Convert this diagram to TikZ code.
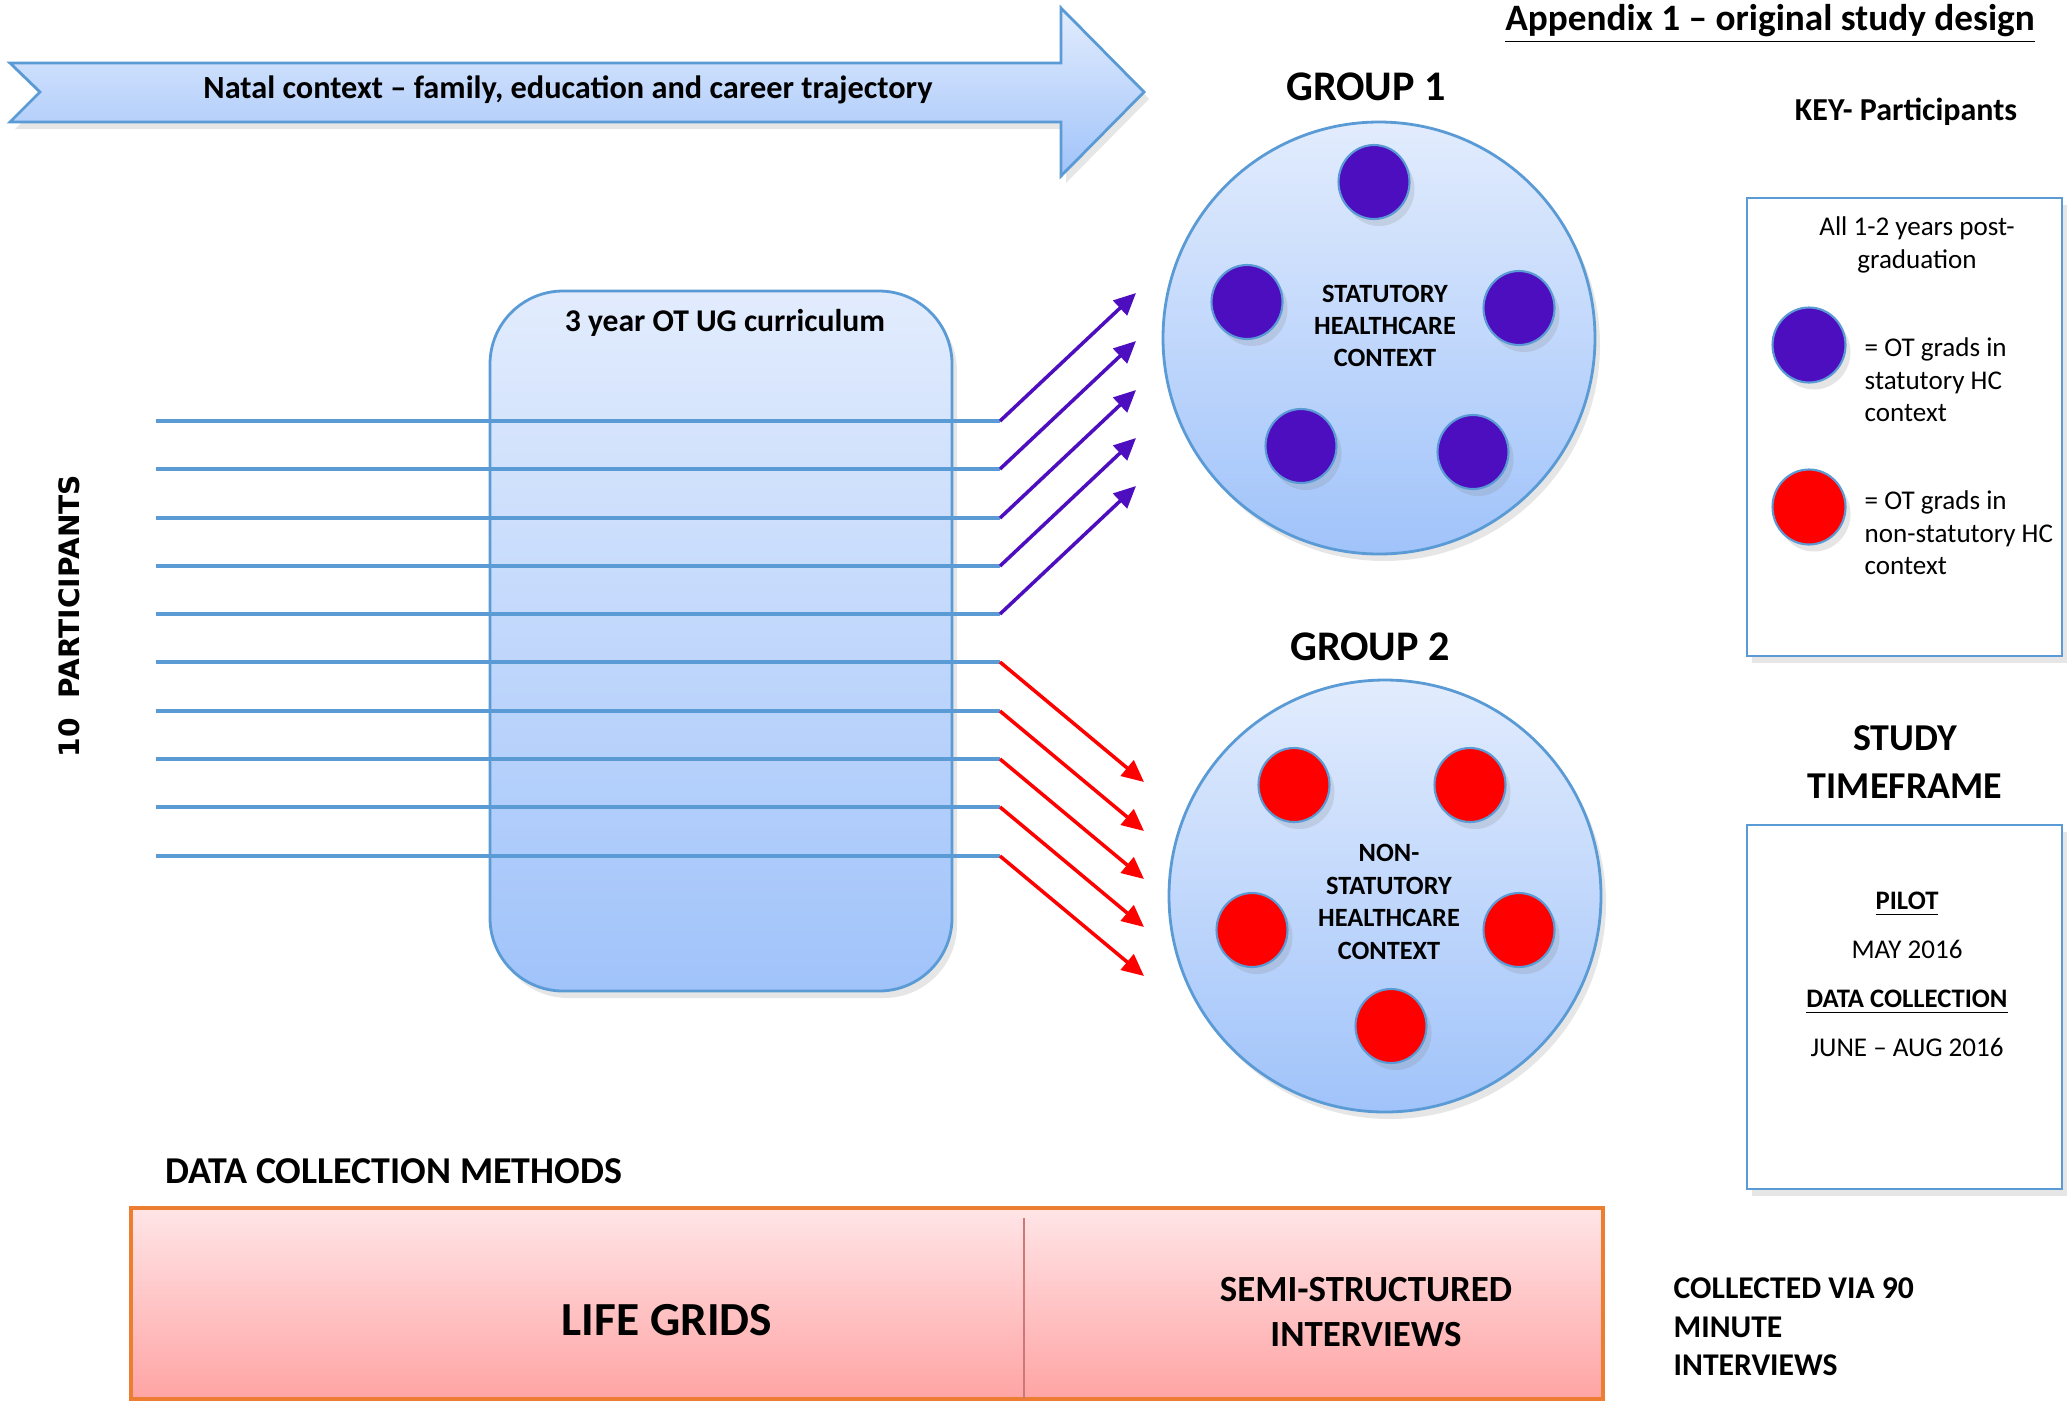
\documentclass[tikz,border=0pt]{standalone}
\usepackage{fontspec}
\setmainfont{Carlito}
\newfontfamily\partfont{DejaVu Sans}
\usepackage{tikz}
\usetikzlibrary{shapes.geometric, arrows.meta, positioning, shadows}

\definecolor{lineblue}{RGB}{91,155,213}
\definecolor{skytop}{RGB}{226,236,253}
\definecolor{skybot}{RGB}{160,195,250}
\definecolor{indigodot}{RGB}{76,14,190}
\definecolor{pinktop}{RGB}{255,229,231}
\definecolor{pinkbot}{RGB}{255,164,164}
\definecolor{edgeorange}{RGB}{237,125,49}
\definecolor{divred}{RGB}{205,120,120}

\begin{document}
\begin{tikzpicture}[x=0.1mm, y=-0.1mm,
  softshadow/.style={drop shadow={opacity=0.2, shadow xshift=0.5mm, shadow yshift=-0.7mm}},
  currbox/.style={rectangle, rounded corners=7.3mm, draw=lineblue, line width=0.8pt,
              top color=skytop, bottom color=skybot, minimum width=46.2mm, minimum height=70mm,
              softshadow},
  grpcircle/.style={circle, draw=lineblue, line width=0.8pt, top color=skytop, bottom color=skybot,
              minimum size=43.2mm, inner sep=0pt, softshadow},
  bluedot/.style={ellipse, draw=lineblue, line width=0.6pt, fill=indigodot,
              minimum width=7.1mm, minimum height=7.4mm, inner sep=0pt, softshadow},
  reddot/.style={bluedot, fill=red},
  framebox/.style={rectangle, draw=lineblue, line width=0.8pt, fill=white,
              minimum width=31.5mm, inner sep=0pt, softshadow},
  methodbox/.style={rectangle, draw=edgeorange, line width=0.9pt, top color=pinktop, bottom color=pinkbot,
              minimum width=147.2mm, minimum height=19.1mm, inner sep=0pt},
  partline/.style={lineblue, line width=1pt},
  toone/.style={-{Triangle[length=2.2mm, width=2mm]}, indigodot, line width=1pt},
  totwo/.style={-{Triangle[length=2.2mm, width=2mm]}, red, line width=1pt},
  txt/.style={inner sep=0pt, align=center, font=\fontsize{7.7}{9.2}\selectfont},
  boldtxt/.style={inner sep=0pt, align=center, font=\bfseries\fontsize{7.5}{9.2}\selectfont},
  head/.style={inner sep=0pt, align=center, font=\bfseries\fontsize{12}{14}\selectfont},
]
  \useasboundingbox (0,0) rectangle (2071,1401);

  % natal context arrow
  \draw[lineblue, line width=0.8pt, top color=skytop, bottom color=skybot, softshadow]
    (10,63) -- (1061,63) -- (1061,8) -- (1144,92) -- (1061,176) -- (1061,122) -- (10,122) -- (40,92) -- cycle;
  \node[inner sep=0pt, font=\bfseries\fontsize{9.2}{11}\selectfont] (natal) at (568,90)
    {Natal context -- family, education and career trajectory};

  \node[inner sep=0pt, font=\bfseries\fontsize{10.6}{12}\selectfont] (title) at (1770,24)
    {\underline{Appendix 1 -- original study design}};

  % curriculum
  \node[currbox] (curr) at (721,641) {};
  \node[inner sep=0pt, font=\bfseries\fontsize{9}{10}\selectfont] (currlbl) at (725,323) {3 year OT UG curriculum};

  \node[inner sep=0pt, rotate=90, font=\partfont\bfseries\fontsize{8}{9}\selectfont] (parts) at (69,616)
    {10~~PARTICIPANTS};

  % groups
  \node[head] (g1lbl) at (1366,87) {GROUP 1};
  \node[grpcircle] (g1) at (1379,338) {};
  \node[bluedot] (d1a) at (1374,182) {};
  \node[bluedot] (d1b) at (1247,302) {};
  \node[bluedot] (d1c) at (1519,308) {};
  \node[bluedot] (d1d) at (1301,446) {};
  \node[bluedot] (d1e) at (1473,452) {};
  \node[boldtxt] (g1txt) at (1385,326) {STATUTORY\\HEALTHCARE\\CONTEXT};

  \node[head] (g2lbl) at (1370,647) {GROUP 2};
  \node[grpcircle] (g2) at (1385,896) {};
  \node[reddot] (d2a) at (1294,785) {};
  \node[reddot] (d2b) at (1470,785) {};
  \node[reddot] (d2c) at (1252,930) {};
  \node[reddot] (d2d) at (1519,930) {};
  \node[reddot] (d2e) at (1391,1026) {};
  \node[boldtxt, font=\bfseries\fontsize{7.5}{9.3}\selectfont] (g2txt) at (1389,902)
    {NON-\\STATUTORY\\HEALTHCARE\\CONTEXT};

  % participant lines
  \coordinate (s1) at (156,421);  \coordinate (b1) at (1000,421);  \coordinate (t1) at (1136,293);
  \coordinate (s2) at (156,469);  \coordinate (b2) at (1000,469);  \coordinate (t2) at (1136,341);
  \coordinate (s3) at (156,518);  \coordinate (b3) at (1000,518);  \coordinate (t3) at (1136,390);
  \coordinate (s4) at (156,566);  \coordinate (b4) at (1000,566);  \coordinate (t4) at (1136,438);
  \coordinate (s5) at (156,614);  \coordinate (b5) at (1000,614);  \coordinate (t5) at (1136,486);
  \coordinate (s6) at (156,662);  \coordinate (b6) at (1000,662);  \coordinate (t6) at (1144,782);
  \coordinate (s7) at (156,711);  \coordinate (b7) at (1000,711);  \coordinate (t7) at (1144,831);
  \coordinate (s8) at (156,759);  \coordinate (b8) at (1000,759);  \coordinate (t8) at (1144,879);
  \coordinate (s9) at (156,807);  \coordinate (b9) at (1000,807);  \coordinate (t9) at (1144,927);
  \coordinate (s10) at (156,856); \coordinate (b10) at (1000,856); \coordinate (t10) at (1144,976);

  \draw[partline] (s1) -- (b1);
  \draw[partline] (s2) -- (b2);
  \draw[partline] (s3) -- (b3);
  \draw[partline] (s4) -- (b4);
  \draw[partline] (s5) -- (b5);
  \draw[partline] (s6) -- (b6);
  \draw[partline] (s7) -- (b7);
  \draw[partline] (s8) -- (b8);
  \draw[partline] (s9) -- (b9);
  \draw[partline] (s10) -- (b10);

  \draw[toone] (b1) -- (t1);
  \draw[toone] (b2) -- (t2);
  \draw[toone] (b3) -- (t3);
  \draw[toone] (b4) -- (t4);
  \draw[toone] (b5) -- (t5);
  \draw[totwo] (b6) -- (t6);
  \draw[totwo] (b7) -- (t7);
  \draw[totwo] (b8) -- (t8);
  \draw[totwo] (b9) -- (t9);
  \draw[totwo] (b10) -- (t10);

  % key
  \node[inner sep=0pt, font=\bfseries\fontsize{9.1}{11}\selectfont] (keylbl) at (1906,112) {KEY- Participants};
  \node[framebox, minimum height=45.8mm] (key) at (1904.5,427) {};
  \node[txt] (keyall) at (1917,245) {All 1-2 years post-\\graduation};
  \node[bluedot, minimum width=7.3mm, minimum height=7.5mm] (keyblue) at (1809,345) {};
  \node[txt, align=left, anchor=west] (keyone) at (1864,380) {= OT grads in\\statutory HC\\context};
  \node[reddot, minimum width=7.3mm, minimum height=7.5mm] (keyred) at (1809,507) {};
  \node[txt, align=left, anchor=west] (keytwo) at (1864,533) {= OT grads in\\non-statutory HC\\context};

  % timeframe
  \node[inner sep=0pt, align=center, font=\bfseries\fontsize{10.8}{13.4}\selectfont] (tflbl) at (1905,762)
    {STUDY\\TIMEFRAME};
  \node[framebox, minimum height=36.4mm] (tf) at (1904.5,1007) {};
  \node[boldtxt, font=\bfseries\fontsize{7.6}{9}\selectfont] (pilot) at (1907,904) {\underline{PILOT}};
  \node[txt] (pilotdate) at (1907,949) {MAY 2016};
  \node[boldtxt, font=\bfseries\fontsize{7.6}{9}\selectfont] (dc) at (1907,1002) {\underline{DATA COLLECTION}};
  \node[txt] (dcdate) at (1907,1047) {JUNE -- AUG 2016};

  % methods
  \node[inner sep=0pt, anchor=west, font=\bfseries\fontsize{10.8}{12}\selectfont] (methlbl) at (165,1171)
    {DATA COLLECTION METHODS};
  \node[methodbox] (methods) at (867,1303.5) {};
  \draw[divred, line width=0.4pt] (1024,1218) -- (1024,1399);
  \node[inner sep=0pt, font=\bfseries\fontsize{13.5}{16}\selectfont] (life) at (667,1320) {LIFE GRIDS};
  \node[inner sep=0pt, align=center, font=\bfseries\fontsize{10.5}{12.8}\selectfont] (semi) at (1366,1312)
    {SEMI-STRUCTURED\\INTERVIEWS};
  \node[inner sep=0pt, align=left, anchor=west, font=\bfseries\fontsize{9}{11}\selectfont] (ninety) at (1673,1327)
    {COLLECTED VIA 90\\MINUTE\\INTERVIEWS};
\end{tikzpicture}
\end{document}
